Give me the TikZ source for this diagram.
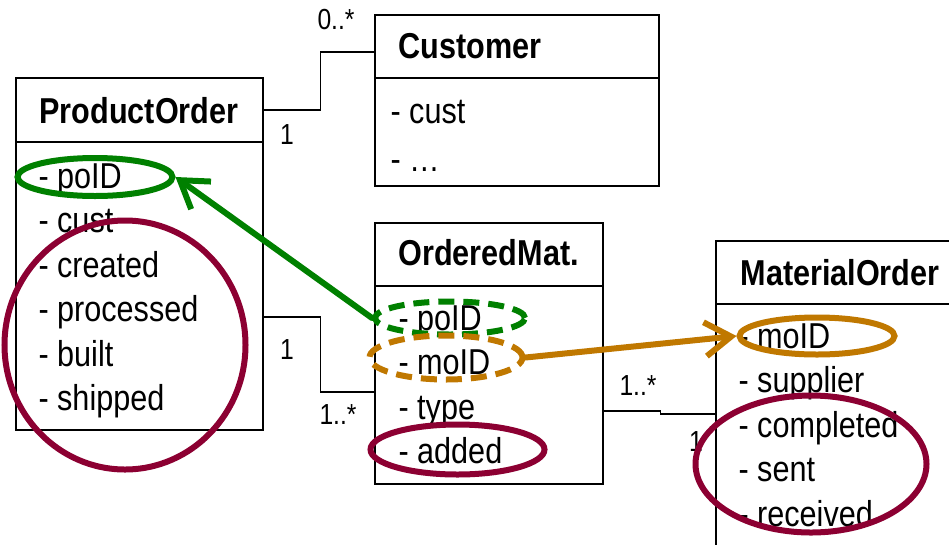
\documentclass[tikz,border=0pt]{standalone}
\usepackage{fontspec}
\setmainfont[FakeStretch=0.85]{Liberation Sans}
\usepackage{xcolor}
\usetikzlibrary{arrows.meta, shapes.geometric, positioning}
\definecolor{markgreen}{RGB}{0,128,0}
\definecolor{markorange}{RGB}{192,120,0}
\definecolor{markred}{RGB}{140,0,50}
\tikzset{
	classbox/.style={draw, line width=2.4pt, anchor=north west, inner sep=0pt},
	title/.style={anchor=base west, font=\fontsize{36}{40}\selectfont\bfseries},
	attr/.style={anchor=base west},
	mult/.style={font=\fontsize{29}{29}\selectfont},
	assoc/.style={draw, line width=1.8pt},
	ring/.style={ellipse, draw, line width=6pt, inner sep=0pt},
	dashring/.style={ring, dash pattern=on 16pt off 9pt},
	hint/.style={line width=6pt, line cap=round, -{Straight Barb[length=26pt,width=34pt]}}
}
\begin{document}
\begin{tikzpicture}[x=1pt,y=-1pt,font=\fontsize{36}{40}\selectfont]
			\useasboundingbox (0,0) rectangle (949,544);
			% Classes
			\node[classbox, minimum width=247pt, minimum height=64pt] (PO-head) at (15,77) {};
			\node[classbox, minimum width=247pt, minimum height=288pt] (PO-body) at (15,141) {};
			\node[classbox, minimum width=284pt, minimum height=63pt] (CU-head) at (374,14) {};
			\node[classbox, minimum width=284pt, minimum height=108pt] (CU-body) at (374,77) {};
			\node[classbox, minimum width=228pt, minimum height=63pt] (OM-head) at (374,222) {};
			\node[classbox, minimum width=228pt, minimum height=198pt] (OM-body) at (374,285) {};
			\node[classbox, minimum width=260pt, minimum height=63pt] (MO-head) at (715,240) {};
			\node[classbox, minimum width=260pt, minimum height=260pt] (MO-body) at (715,303) {};
			
			% Titles
			\node[title] (PO-title) at (36,123) {ProductOrder};
			\node[title] (CU-title) at (395,58) {Customer};
			\node[title] (OM-title) at (395,265) {OrderedMat.};
			\node[title] (MO-title) at (737,285) {MaterialOrder};
			
			% Attributes
			\foreach \t [count=\i from 0] in {poID, cust, created, processed, built, shipped}
			\node[attr] (PO-\t) at (35,{188+44.5*\i}) {- \t};
			\node[attr] (CU-cust) at (387,123) {- cust};
			\node[attr] (CU-more) at (387,171) {- \dots};
			\foreach \t [count=\i from 0] in {poID, moID, type, added}
			\node[attr] (OM-\t) at (395,{330+44.5*\i}) {- \t};
			\foreach \t [count=\i from 0] in {moID, supplier, completed, sent, received}
			\node[attr] (MO-\t) at (735,{348+44.5*\i}) {- \t};
			
			% Associations
			\draw[assoc] (PO-head.east) -- ++(56,0) |- ([yshift=-5.5pt]CU-head.west);
			\draw[assoc] ([yshift=-31pt]PO-body.east) -- ++(56,0) |- ([yshift=-7pt]OM-body.west);
			\draw[assoc] ([yshift=-26pt]OM-body.east) -- ++(56,0) |- ([yshift=20pt]MO-body.west);
			\node[mult] (m-po-cu) at (287,135) {1};
			\node[mult] (m-cu-po) at (336,20) {0..*};
			\node[mult] (m-po-om) at (287,350) {1};
			\node[mult] (m-om-po) at (338,415) {1..*};
			\node[mult] (m-om-mo) at (638,386) {1..*};
			\node[mult] (m-mo-om) at (696,442) {1};
			
			% Markings
			\node[ring, markgreen, minimum width=155pt, minimum height=38pt] (po-poid) at (95,177) {};
			\node[ring, markred, minimum width=241pt, minimum height=249pt] (po-dates) at (125,345) {};
			\node[dashring, markgreen, minimum width=150pt, minimum height=33pt] (om-poid) at (450,318) {};
			\node[dashring, markorange, minimum width=153pt, minimum height=44pt] (om-moid) at (446,357.5) {};
			\node[ring, markred, minimum width=174pt, minimum height=50pt] (om-added) at (457.5,449.5) {};
			\node[ring, markorange, minimum width=155pt, minimum height=37pt] (mo-moid) at (817,336) {};
			\node[ring, markred, minimum width=231pt, minimum height=137pt] (mo-dates) at (811,464) {};
			\draw[hint, markgreen] (om-poid.west) -- (po-poid.east);
			\draw[hint, markorange] (om-moid.east) -- (mo-moid.west);
		\end{tikzpicture}
\end{document}
